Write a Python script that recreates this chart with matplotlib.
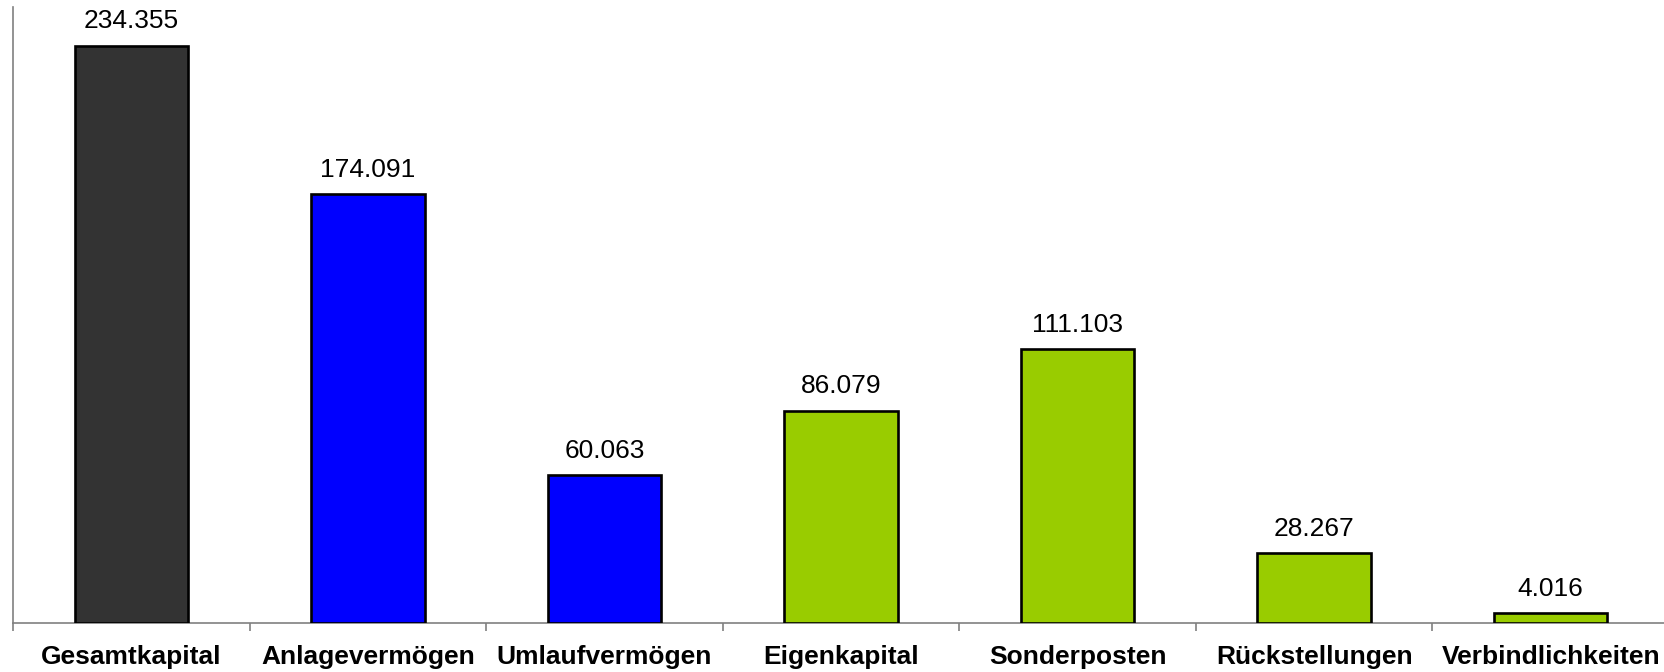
import matplotlib
matplotlib.use("Agg")
import matplotlib.pyplot as plt
from matplotlib.ticker import FixedLocator, NullFormatter

categories = ["Gesamtkapital", "Anlagevermögen", "Umlaufvermögen", "Eigenkapital",
              "Sonderposten", "Rückstellungen", "Verbindlichkeiten"]
values = [234355, 174091, 60063, 86079, 111103, 28267, 4016]
colors = ["#333333", "#0000FF", "#0000FF", "#99CC00", "#99CC00", "#99CC00", "#99CC00"]

plt.rcParams["font.family"] = ["Liberation Sans", "DejaVu Sans"]

W, H = 1664, 672
fig = plt.figure(figsize=(W / 100, H / 100), dpi=100)
left, right, bottom, top = 13, 1669, 623, 7
ax = fig.add_axes([left / W, (H - bottom) / H, (right - left) / W, (bottom - top) / H])

x = list(range(len(categories)))
ax.bar(x, values, width=0.48, color=colors, edgecolor="black", linewidth=1.9, zorder=3)

for xi, v in zip(x, values):
    ax.annotate(f"{v:,}".replace(",", "."), (xi, v), xytext=(0, 9), textcoords="offset points",
                ha="center", va="bottom", fontsize=19, color="black")

ax.set_xlim(-0.5, len(categories) - 0.5)
ax.set_ylim(0, 250000)

for s in ["top", "right"]:
    ax.spines[s].set_visible(False)
for s in ["left", "bottom"]:
    ax.spines[s].set_color("#808080")
    ax.spines[s].set_linewidth(1.2)

ax.set_yticks([])
ax.xaxis.set_major_locator(FixedLocator([i - 0.5 for i in range(len(categories) + 1)]))
ax.xaxis.set_major_formatter(NullFormatter())
ax.xaxis.set_minor_locator(FixedLocator(x))
ax.set_xticklabels(categories, minor=True, fontsize=19, fontweight="bold")
ax.tick_params(axis="x", which="major", length=6, width=1.2, color="#808080", direction="out")
ax.tick_params(axis="x", which="minor", length=0, pad=16)

fig.savefig("out.png", dpi=100)
